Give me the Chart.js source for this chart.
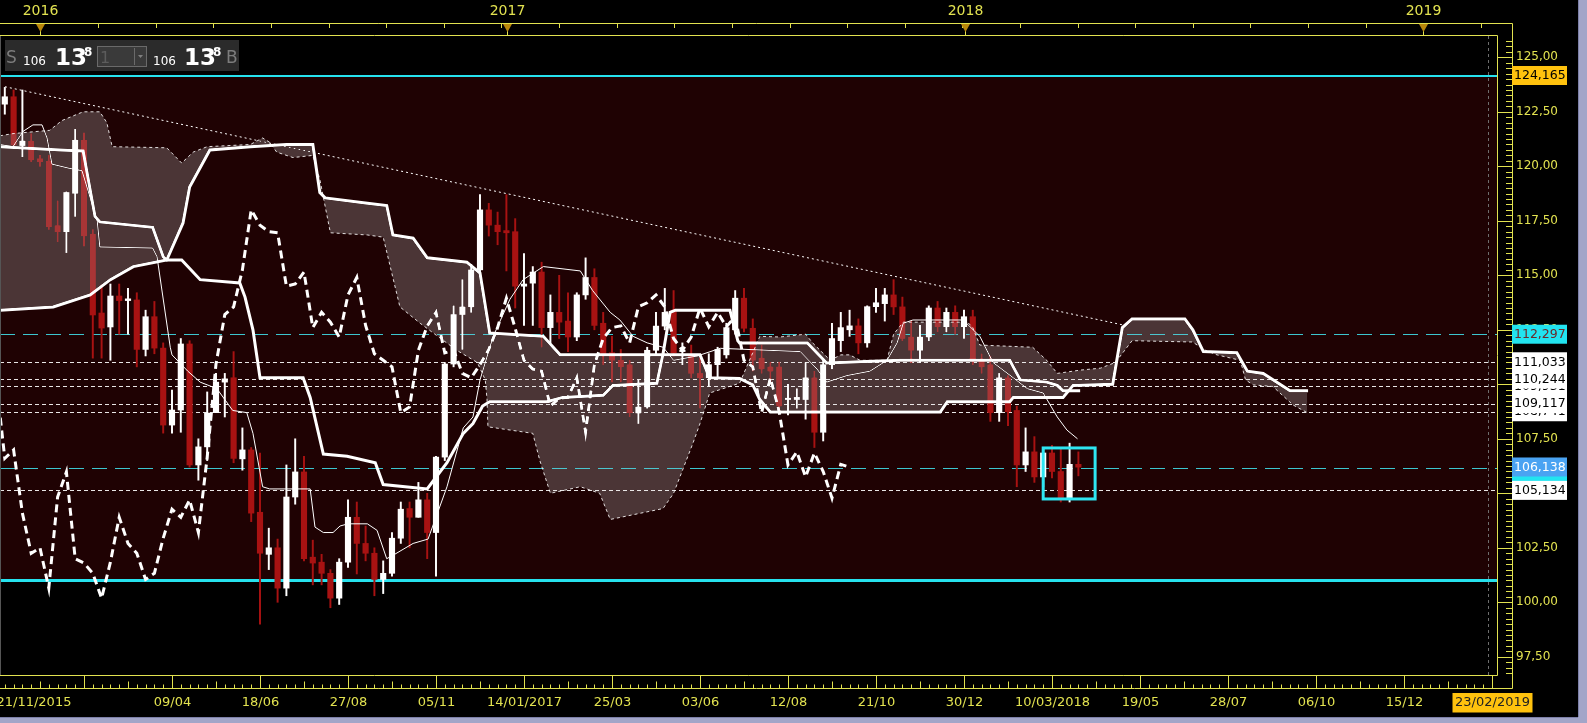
<!DOCTYPE html>
<html>
<head>
<meta charset="utf-8">
<title>USD/JPY weekly - Ichimoku</title>
<script src="https://cdn.jsdelivr.net/npm/chart.js@4.4.1/dist/chart.umd.min.js"></script>
<style>
  html, body { margin: 0; padding: 0; background: #000; overflow: hidden; }
  canvas { display: block; }
</style>
</head>
<body>
<canvas id="chart" width="1587" height="723"></canvas>
<script>
// Weekly candles, first one is week 1 (week 0 = 21/11/2015)
const firstWeek = 1;
const opens = [122.85,123.19,120.95,121.16,120.35,120.24,117.28,117.00,118.76,121.20,
  116.89,113.27,112.63,114.05,113.84,113.87,111.60,113.10,111.66,108.13,
  108.82,111.85,106.30,107.13,108.70,110.10,110.30,106.58,106.99,104.13,
  102.20,102.50,100.65,104.83,105.98,102.07,101.84,101.33,100.19,101.84,
  103.90,102.70,102.25,101.05,101.33,102.94,104.30,103.90,104.70,103.20,
  106.66,110.93,113.20,113.55,115.25,118.00,117.30,117.05,117.00,114.50,
  114.64,115.15,112.60,113.30,112.90,112.17,114.10,114.90,112.80,111.45,
  111.10,110.90,108.68,108.96,111.56,112.67,113.40,111.50,111.35,110.50,
  110.30,110.90,111.35,112.50,113.95,112.57,111.20,110.80,110.80,109.30,
  109.30,109.30,110.30,107.80,110.90,112.00,112.50,112.68,111.90,113.56,
  113.70,114.10,113.55,112.17,111.56,112.17,113.50,112.64,113.30,112.64,
  113.10,111.10,110.90,108.70,110.30,108.80,106.30,106.90,105.75,106.85,
  106.00,104.78,106.33];
const highs = [123.62,123.50,123.50,121.50,120.50,120.50,118.42,118.83,121.70,121.54,
  117.10,114.55,114.60,114.60,114.40,114.20,113.40,113.80,111.90,109.74,
  112.10,112.00,107.50,109.65,110.50,110.50,111.50,108.00,107.10,106.85,
  103.40,102.90,106.30,107.50,106.70,102.85,102.20,101.50,102.00,104.70,
  104.60,103.50,102.50,101.90,103.20,104.60,104.60,105.50,105.00,106.70,
  111.00,113.60,114.80,115.50,118.70,118.30,117.90,118.70,117.60,116.00,
  115.40,115.60,114.10,115.00,114.20,114.20,115.80,115.30,113.30,112.20,
  111.60,111.10,110.20,111.70,113.30,114.40,114.30,111.90,111.80,111.20,
  111.40,111.70,112.80,114.30,114.40,113.00,111.80,111.00,111.00,110.00,
  109.80,111.00,110.60,111.10,112.80,113.30,113.40,113.00,113.60,114.40,
  114.40,114.80,114.00,112.90,112.70,113.60,113.80,113.50,113.60,113.40,
  113.40,111.40,111.30,110.50,110.40,109.00,108.00,107.60,107.10,107.20,
  107.10,107.30,106.90];
const lows = [122.39,120.80,120.44,120.20,120.00,117.10,116.54,116.04,117.70,116.34,
  111.20,111.20,111.10,112.30,112.30,110.80,111.30,111.40,107.76,107.76,
  107.80,106.20,105.60,106.50,108.70,108.50,106.40,106.06,103.70,99.00,
  101.50,100.00,100.30,104.50,101.90,100.80,100.80,99.75,99.90,101.60,
  101.30,101.90,100.30,100.40,101.20,102.70,102.50,103.90,102.00,101.20,
  106.50,110.80,111.60,113.30,115.00,116.80,116.40,115.20,113.50,112.70,
  112.70,111.70,111.90,112.10,111.50,112.00,113.90,112.50,110.90,110.10,
  110.10,108.50,108.20,108.90,111.40,112.50,111.30,110.90,110.30,108.90,
  109.90,110.30,111.20,112.30,112.40,110.60,110.50,110.10,108.80,108.60,
  108.90,108.40,107.10,107.40,110.70,111.50,112.20,111.40,111.70,113.30,
  112.90,113.20,112.00,111.00,111.00,112.00,112.40,112.40,112.30,112.10,
  110.90,110.50,108.30,108.30,108.10,105.30,106.00,105.50,105.30,105.70,
  104.60,104.60,105.80];
const closes = [123.19,120.98,121.16,120.29,120.20,117.23,117.00,118.80,121.20,116.80,
  113.18,112.58,114.05,113.84,113.92,111.60,113.10,111.66,108.13,108.82,
  111.85,106.30,107.13,108.68,110.10,110.25,106.60,106.99,104.09,102.25,
  102.50,100.65,104.83,105.98,102.00,101.80,101.33,100.19,101.84,103.90,
  102.70,102.25,101.05,101.33,102.94,104.27,103.90,104.70,103.20,106.66,
  110.93,113.20,113.55,115.25,118.00,117.30,117.00,116.95,114.50,114.60,
  115.15,112.60,113.30,112.85,112.17,114.10,114.90,112.70,111.40,111.10,
  110.80,108.70,108.96,111.56,112.67,113.30,111.44,111.56,110.50,110.30,
  110.90,111.60,112.60,113.95,112.57,111.10,110.70,110.60,109.00,109.35,
  109.40,110.30,107.80,110.90,112.10,112.60,112.68,111.90,113.56,113.74,
  114.10,113.55,112.10,111.56,112.17,113.50,112.64,113.30,112.64,113.10,
  111.10,110.80,108.70,110.30,108.74,106.30,106.90,105.75,106.85,106.00,
  104.78,106.33,106.20];

// Ichimoku lines: [week, price]
const tenkanPts = [[0.45,121.0],[1.93,120.9],[3.07,121.6],[4.2,121.9],[5.23,121.9],[5.8,121.3],[6.36,120.1],
  [8.4,119.9],[9.77,119.8],[11.5,117.5],[11.8,116.3],[17.8,116.25],[18.3,115.85],[19.8,111.7],[20,111.35],
  [21.8,110.6],[23.2,110.1],[25.1,109.8],[26.9,108.8],[28.5,108.7],[29.2,107.75],[30.3,105.3],[31.1,105.2],
  [35.7,105.2],[36.25,103.45],[37.2,103.2],[38.3,103.2],[39.1,103.5],[40,103.6],[42.2,103.6],[43.3,103.3],
  [44.4,102.0],[45.3,102.2],[47.4,102.7],[49.1,102.9],[51.25,105.3],[53.1,108.0],[54.2,108.5],[55,110.2],
  [56.5,112.2],[58.4,113.9],[59.9,114.8],[62.2,115.4],[66.4,115.2],[67.8,114.3],[69.8,113.3],[70.9,112.95],
  [72.4,112.2],[74,111.9],[75.8,111.7],[77,111.1],[79.7,111.3],[82.3,111.65],[91.4,111.5],[93.3,110.7],
  [94.4,110.1],[96.7,110.4],[99.3,110.6],[101.25,111.1],[102.4,111.9],[103.1,112.8],[104.2,112.95],
  [109.9,112.95],[111.8,112.2],[113.3,111.0],[115.6,110.3],[117.2,109.8],[119,109.6],[120.6,108.5],
  [121.7,107.9],[122.9,107.5]];
const kijunPts = [[0.45,120.9],[7.3,120.75],[9.9,120.7],[11.25,117.7],[11.8,117.45],[17.8,117.2],[19,115.85],
  [19.4,115.7],[21.1,115.7],[23.2,114.8],[27.7,114.65],[28.3,114.0],[29.2,112.5],[30,110.3],[34.9,110.3],
  [35.7,109.4],[37.2,106.8],[39.9,106.7],[43.1,106.4],[44,105.4],[49,105.2],[51.25,106.4],[53.1,107.75],
  [54.2,108.2],[55.3,109.0],[56.1,109.2],[62.6,109.2],[64.4,109.4],[69,109.5],[70.1,109.95],[75.1,110.05],
  [75.8,111.4],[76.6,113.3],[77.2,113.4],[83.4,113.4],[84.3,112.0],[84.5,111.9],[92.2,111.9],[94.4,110.98],
  [102.7,111.1],[115.2,111.1],[115.6,110.8],[116.4,110.2],[119.4,110.1],[120.6,109.95],[121.25,109.7],
  [123.2,109.7]];
const spanAPts = [[0.45,121.4],[1.93,121.5],[6.1,121.65],[7.5,122.1],[9.9,122.5],[11.8,122.5],[12.6,122.0],
  [13.2,120.9],[19.4,120.85],[21.1,120.15],[22.4,120.65],[24,120.9],[28.9,121.0],[30.3,121.3],[31.1,121.1],
  [31.9,120.65],[33.75,120.4],[36,120.5],[36.8,119.4],[38,116.95],[42.2,116.85],[44,116.75],[44.8,115.4],
  [45.9,113.55],[48.2,112.8],[50.2,112.2],[52.4,111.55],[54.7,111.0],[55.6,110.2],[55.8,109.3],[55.9,108.05],
  [61,107.75],[61.8,106.5],[63,105.0],[66.4,105.3],[68.6,105.0],[69.8,103.8],[75.8,104.3],[77,105.0],
  [79.2,107.3],[80,108.2],[80.6,108.95],[81.1,109.6],[84.5,110.05],[86.8,112.2],[89.1,112.17],[92,112.3],
  [92.8,111.9],[94.8,111.1],[96,111.35],[97,111.35],[98.2,111.1],[101.25,111.1],[102,112.3],[103.1,112.85],
  [110.4,112.85],[111,112.6],[111.8,111.8],[117.8,111.7],[119.4,111.1],[120.6,110.5],[123.2,110.65],
  [125.5,110.74],[127.2,111.0],[129.1,112.0],[136,111.94],[137.2,111.6],[138.75,111.35],[141.4,111.1],
  [142,110.2],[142.9,109.97],[145.1,109.9],[147.4,109.05],[149,108.7]];
const spanBPts = [[0.45,113.4],[6.5,113.55],[10.7,114.1],[13,114.8],[15.6,115.4],[19.4,115.7],[21.25,117.4],
  [22,119.05],[24.3,120.75],[28.9,120.9],[33,121.0],[36,121.0],[36.8,118.8],[37.4,118.55],[42.2,118.3],
  [44.4,118.2],[45.1,116.85],[47.4,116.7],[49,115.8],[53.5,115.6],[55,115.1],[56.1,112.35],[62.2,112.2],
  [64.1,111.35],[80,111.35],[81.1,110.3],[84.5,110.27],[86,109.97],[86.8,109.3],[88,108.73],[107.3,108.73],
  [108.1,109.2],[115.2,109.2],[115.6,109.4],[121.25,109.4],[122.4,109.95],[126.9,110.0],[128,112.6],
  [129.1,113.0],[135.1,113.0],[136,112.5],[137.2,111.5],[141,111.45],[142.2,110.6],[144,110.5],
  [147.05,109.7],[149.1,109.7]];
const chikouShift = 26;
const trendPts = [[1.02,123.65],[128.1,112.72]];

// horizontal levels
const supportLevels = [124.165, 101.02];
const dashedLevels = [112.297, 106.138];
const dottedLevels = [111.033, 110.244, 109.931, 109.117, 108.741, 105.134];
const boxWeeks = [119.0, 124.9];
const boxPrices = [104.74, 107.08];
const cursorWeek = 169.6;

// axes
const yTickValues = [97.5, 100, 102.5, 105, 107.5, 110, 112.5, 115, 117.5, 120, 122.5, 125];
const dateTickWeeks = [0,10,20,30,40,50,60,70,80,90,100,110,120,130,140,150,160,170];
const dateTickLabels = ['21/11/2015','','09/04','18/06','27/08','05/11','14/01/2017','25/03','03/06',
  '12/08','21/10','30/12','10/03/2018','19/05','28/07','06/10','15/12','23/02/2019'];
const yearWeeks = [5.05, 58.1, 110.1, 162.2];
const yearLabels = ['2016', '2017', '2018', '2019'];
const quoteParts = ['106', '13', '8'];

const FONT = '"DejaVu Sans", Verdana, sans-serif';
const YELLOW = '#e2e250';
const UP = '#ffffff';
const DOWN = '#a81212';

const weeks = closes.map((c, i) => firstWeek + i);
const isUp = i => closes[i] >= opens[i];
const pts = arr => arr.map(([x, y]) => ({ x, y }));
const chikou = closes.map((c, i) => ({ x: weeks[i] - chikouShift, y: c })).filter(p => p.x >= 0);
const fmt = (v, d) => v.toFixed(d).replace('.', ',');

const backdrop = {
    id: 'backdrop',
    beforeDraw(chart) {
        const { ctx, chartArea: a, scales: { y } } = chart;
        ctx.save();
        ctx.fillStyle = '#000';
        ctx.fillRect(0, 0, chart.width, chart.height);
        const top = y.getPixelForValue(supportLevels[0]);
        const bot = y.getPixelForValue(supportLevels[1]);
        ctx.fillStyle = '#1f0203';
        ctx.fillRect(a.left, top, a.right - a.left, bot - top);
        ctx.restore();
    }
};

// level lines sit under the candles; the cloud is laid over everything with 'lighten'
const levels = {
    id: 'levels',
    beforeDatasetsDraw(chart) {
        const { ctx, chartArea: a, scales: { y } } = chart;
        ctx.save();
        const hline = (v, color, width, dash) => {
            const yy = Math.round(y.getPixelForValue(v)) + (width % 2 ? 0.5 : 0);
            ctx.strokeStyle = color;
            ctx.lineWidth = width;
            ctx.setLineDash(dash);
            ctx.beginPath();
            ctx.moveTo(a.left, yy);
            ctx.lineTo(a.right, yy);
            ctx.stroke();
        };
        dottedLevels.forEach(v => hline(v, 'rgba(255,255,255,0.9)', 1, [4, 3]));
        dashedLevels.forEach(v => hline(v, '#3cc6cf', 1, [15, 8]));
        supportLevels.forEach((v, i) => hline(v, '#26e2ee', i ? 3 : 2, []));
        ctx.restore();
    },
    afterDatasetDraw(chart, args) {
        const label = chart.data.datasets[args.index].label;
        if (label === 'Trend') chart.ctx.globalCompositeOperation = 'lighten';
        if (label === 'Senkou A') chart.ctx.globalCompositeOperation = 'source-over';
    }
};

const frame = {
    id: 'frame',
    afterDraw(chart) {
        const { ctx, chartArea: a, scales: { x, y } } = chart;
        const line = (x1, y1, x2, y2) => {
            ctx.beginPath(); ctx.moveTo(x1, y1); ctx.lineTo(x2, y2); ctx.stroke();
        };
        ctx.save();
        ctx.globalCompositeOperation = 'source-over';

        // highlight box round the last candles
        ctx.strokeStyle = '#2ee6f2';
        ctx.lineWidth = 3;
        const bx1 = x.getPixelForValue(boxWeeks[0]), bx2 = x.getPixelForValue(boxWeeks[1]);
        const by1 = y.getPixelForValue(boxPrices[1]), by2 = y.getPixelForValue(boxPrices[0]);
        ctx.strokeRect(bx1, by1, bx2 - bx1, by2 - by1);

        // time cursor
        ctx.strokeStyle = '#6e6e6e';
        ctx.lineWidth = 1;
        ctx.setLineDash([3, 3]);
        const cx = Math.round(x.getPixelForValue(cursorWeek)) + 0.5;
        line(cx, a.top, cx, a.bottom);
        ctx.setLineDash([]);

        // frame and axis rulers
        const R = a.right + 0.5, B = a.bottom + 0.5, AX = 1512.5, BOT = 688.5;
        ctx.strokeStyle = YELLOW;
        line(0, 23.5, AX, 23.5);
        line(0, 35.5, R, 35.5);
        line(R, 35.5, R, B);
        line(0, B, R, B);
        line(0, BOT, AX, BOT);
        line(AX, 23.5, AX, BOT);

        // top: years
        const yearStep = (yearWeeks[3] - yearWeeks[0]) / 3 / 8;
        for (let k = -1; k < 40; k++) {
            const px = Math.round(x.getPixelForValue(yearWeeks[0] + k * yearStep)) + 0.5;
            if (px < 0 || px > a.right) continue;
            line(px, 23.5, px, 28);
        }
        ctx.font = '14px ' + FONT;
        ctx.textAlign = 'center';
        ctx.textBaseline = 'middle';
        yearWeeks.forEach((w, i) => {
            const px = Math.round(x.getPixelForValue(w)) + 0.5;
            ctx.strokeStyle = YELLOW;
            line(px, 23.5, px, 35.5);
            ctx.fillStyle = '#b8860b';
            ctx.beginPath();
            ctx.moveTo(px - 4.5, 24); ctx.lineTo(px + 4.5, 24); ctx.lineTo(px, 32); ctx.closePath();
            ctx.fill();
            ctx.fillStyle = YELLOW;
            ctx.fillText(yearLabels[i], px, 11);
        });

        // bottom: dates
        ctx.strokeStyle = YELLOW;
        for (let w = 0; w <= 171; w++) {
            const px = Math.round(x.getPixelForValue(w)) + 0.5;
            if (px < 0 || px > a.right) continue;
            line(px, BOT, px, BOT - (w % 5 === 0 ? 7 : 4));
        }
        ctx.font = '13px ' + FONT;
        dateTickWeeks.forEach((w, i) => {
            const px = Math.round(x.getPixelForValue(w)) + 0.5;
            if (px >= 0) line(px, B, px, BOT);
            const label = dateTickLabels[i];
            if (!label) return;
            if (i === dateTickLabels.length - 1) {
                ctx.fillStyle = '#ffc20e';
                ctx.fillRect(px - 40, 693, 80, 19.5);
                ctx.fillStyle = '#222';
                ctx.textAlign = 'center';
                ctx.fillText(label, px, 703);
                return;
            }
            ctx.fillStyle = YELLOW;
            ctx.textAlign = i === 0 ? 'left' : 'center';
            ctx.fillText(label, px, 703);
        });

        // right: price ruler
        ctx.strokeStyle = YELLOW;
        for (let k = 386; k <= 504; k++) {
            const v = k / 4;
            const py = Math.round(y.getPixelForValue(v)) + 0.5;
            if (py < a.top || py > a.bottom) continue;
            line(k % 10 === 0 ? R : 1506, py, AX, py);
        }
        ctx.font = '12px ' + FONT;
        ctx.textAlign = 'left';
        ctx.fillStyle = YELLOW;
        yTickValues.forEach(v => ctx.fillText(fmt(v, 2), 1516, y.getPixelForValue(v)));

        // level labels
        const tag = (v, bg, fg, dy = 0) => {
            const py = y.getPixelForValue(v) + dy;
            ctx.fillStyle = bg;
            ctx.fillRect(1512, py - 9.5, 55, 19);
            ctx.fillStyle = fg;
            ctx.font = '12.5px ' + FONT;
            ctx.fillText(fmt(v, 3), 1514, py + 0.5);
        };
        tag(dottedLevels[2], '#fff', '#000');
        tag(dottedLevels[4], '#fff', '#000');
        tag(dottedLevels[0], '#fff', '#000');
        tag(dottedLevels[1], '#fff', '#000');
        tag(dottedLevels[3], '#fff', '#000');
        tag(supportLevels[0], '#ffc20e', '#000');
        tag(dashedLevels[0], '#22e4f0', '#6a2a2a');
        ctx.fillStyle = '#22e4f0';
        ctx.fillRect(1512, y.getPixelForValue(dashedLevels[1]) - 5, 55, 19);
        tag(dashedLevels[1], '#4aa3f2', '#fff', -1.5);
        tag(dottedLevels[5], '#fff', '#000');

        // quote box, top left
        ctx.fillStyle = '#2b2b2b';
        ctx.fillRect(5, 40, 234, 31);
        ctx.textBaseline = 'alphabetic';
        ctx.fillStyle = '#7c7c7c';
        ctx.font = '17px ' + FONT;
        ctx.fillText('S', 6, 63);
        ctx.fillText('B', 226, 63);
        [[23, 55, 84], [153, 184, 213]].forEach(([a1, a2, a3]) => {
            ctx.fillStyle = '#fff';
            ctx.font = '12px ' + FONT;
            ctx.fillText(quoteParts[0], a1, 65);
            ctx.font = 'bold 23px ' + FONT;
            ctx.fillText(quoteParts[1], a2, 65);
            ctx.font = 'bold 12px ' + FONT;
            ctx.fillText(quoteParts[2], a3, 56);
        });
        ctx.fillStyle = '#3a3a3a';
        ctx.fillRect(97, 46, 49, 21);
        ctx.strokeStyle = '#6a6a6a';
        ctx.lineWidth = 1;
        ctx.strokeRect(97.5, 46.5, 49, 20);
        line(134.5, 48, 134.5, 65);
        ctx.fillStyle = '#5c5c5c';
        ctx.font = '16px ' + FONT;
        ctx.fillText('1', 100, 63);
        ctx.fillStyle = '#808080';
        ctx.beginPath();
        ctx.moveTo(138, 55); ctx.lineTo(143, 55); ctx.lineTo(140.5, 58); ctx.closePath();
        ctx.fill();

        // window border
        ctx.fillStyle = '#a2a5c8';
        ctx.fillRect(1578, 0, 9, chart.height);
        ctx.fillRect(0, 717, chart.width, 6);
        ctx.fillStyle = '#7d80a8';
        ctx.fillRect(1578, 0, 1, 717);
        ctx.fillRect(0, 717, 1578, 1);
        ctx.fillStyle = '#555';
        ctx.fillRect(0, 36, 1, a.bottom - 36);
        ctx.restore();
    }
};

const lineDefaults = { type: 'line', pointRadius: 0, fill: false, borderColor: '#fff', tension: 0 };

// order: higher is drawn first; the cloud (order 1) comes last
new Chart(document.getElementById('chart'), {
    type: 'line',
    data: {
        datasets: [
            { ...lineDefaults, label: 'Senkou A', data: pts(spanAPts), borderWidth: 1, borderDash: [3, 3],
              borderColor: 'rgba(255,255,255,0.85)', fill: '+1', backgroundColor: '#4b3536', order: 1 },
            { ...lineDefaults, label: 'Senkou B', data: pts(spanBPts), borderWidth: 3, order: 3 },
            { type: 'bar', label: 'wicks', grouped: false, barThickness: 1.3, order: 8,
              data: weeks.map((w, i) => ({ x: w, y: [lows[i], highs[i]] })),
              backgroundColor: c => isUp(c.dataIndex) ? UP : DOWN },
            { type: 'bar', label: 'bodies', grouped: false, barThickness: 5.5, minBarLength: 1.5, order: 7,
              data: weeks.map((w, i) => ({ x: w, y: [opens[i], closes[i]] })),
              backgroundColor: c => isUp(c.dataIndex) ? UP : DOWN },
            { ...lineDefaults, label: 'Tenkan', data: pts(tenkanPts), borderWidth: 1, order: 6 },
            { ...lineDefaults, label: 'Kijun', data: pts(kijunPts), borderWidth: 3, order: 5 },
            { ...lineDefaults, label: 'Chikou', data: chikou, borderWidth: 3, borderDash: [8, 5], order: 4 },
            { ...lineDefaults, label: 'Trend', data: pts(trendPts), borderWidth: 1, borderDash: [2, 3], order: 2 }
        ]
    },
    options: {
        responsive: false,
        animation: false,
        devicePixelRatio: 1,
        events: [],
        layout: { padding: { left: 0, right: 90, top: 36, bottom: 48 } },
        scales: {
            x: { type: 'linear', min: 0.4545, max: 170.57, offset: false, display: false },
            y: { type: 'linear', min: 96.665, max: 125.977, offset: false, display: false }
        },
        plugins: { legend: { display: false }, tooltip: { enabled: false } }
    },
    plugins: [backdrop, levels, frame]
});
</script>
</body>
</html>
